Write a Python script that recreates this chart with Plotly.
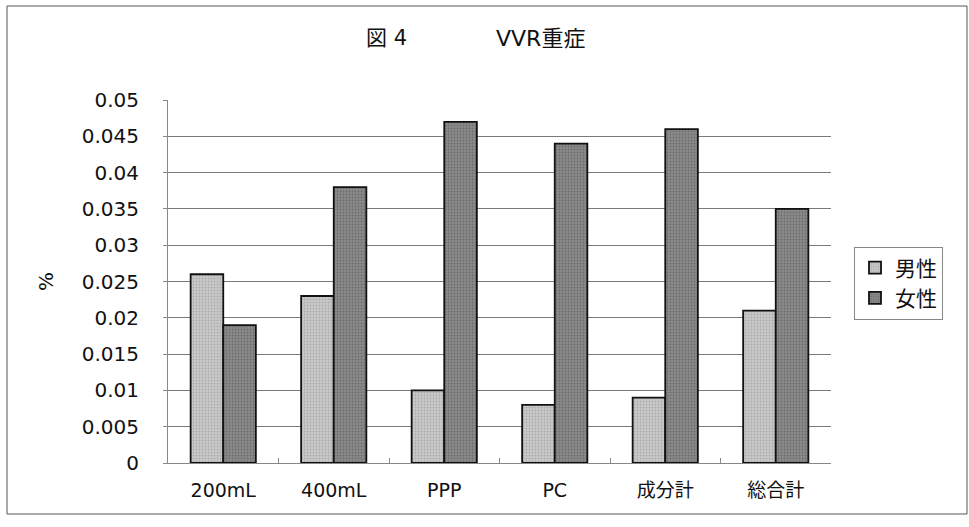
import plotly.graph_objects as go

categories = ["200mL", "400mL", "PPP", "PC", "成分計", "総合計"]
male = [0.026, 0.023, 0.010, 0.008, 0.009, 0.021]
female = [0.019, 0.038, 0.047, 0.044, 0.046, 0.035]
y_ticks = [0, 0.005, 0.01, 0.015, 0.02, 0.025, 0.03, 0.035, 0.04, 0.045, 0.05]
y_tick_text = ["0", "0.005", "0.01", "0.015", "0.02", "0.025", "0.03", "0.035", "0.04", "0.045", "0.05"]

FONT = "DejaVu Sans, Noto Sans CJK JP, sans-serif"

fig = go.Figure()
fig.add_trace(go.Bar(
    name="男性", x=categories, y=male,
    marker=dict(color="#c9c9c9", line=dict(color="#111111", width=1.8),
                pattern=dict(shape=".", fgcolor="#8f8f8f", size=3, solidity=0.3)),
))
fig.add_trace(go.Bar(
    name="女性", x=categories, y=female,
    marker=dict(color="#8a8a8a", line=dict(color="#111111", width=1.8),
                pattern=dict(shape=".", fgcolor="#4f4f4f", size=3, solidity=0.3)),
))

L, R, T, B = 168, 831, 100, 463
W, H = R - L, B - T

def px_x(x):
    return (x - L) / W

def px_y(y):
    return (B - y) / H

fig.update_layout(
    width=969, height=527,
    margin=dict(l=L, r=969 - R, t=T, b=527 - B),
    paper_bgcolor="white", plot_bgcolor="white",
    barmode="group", bargap=0.41, bargroupgap=0,
    font=dict(family=FONT, size=19, color="#111111"),
    showlegend=True,
    legend=dict(x=px_x(854), y=px_y(283), xanchor="left", yanchor="middle",
                bordercolor="#888888", borderwidth=1, bgcolor="white",
                font=dict(size=21), itemwidth=30, tracegroupgap=4),
    xaxis=dict(showgrid=False, showline=True, linecolor="#888888", linewidth=1,
               ticks="inside", ticklen=5, tickcolor="#888888", tickson="boundaries",
               ticklabelstandoff=10, tickfont=dict(size=19), fixedrange=True),
    yaxis=dict(range=[0, 0.05], tickvals=y_ticks, ticktext=y_tick_text,
               showgrid=True, gridcolor="#7a7a7a", gridwidth=1,
               showline=True, linecolor="#888888", linewidth=1,
               ticks="outside", ticklen=4, tickcolor="#888888",
               ticklabelstandoff=20, tickfont=dict(size=20),
               title=dict(text="%", font=dict(size=20), standoff=22),
               zeroline=False, fixedrange=True),
    shapes=[dict(type="rect", xref="paper", yref="paper",
                 x0=px_x(7), x1=px_x(967), y0=px_y(6), y1=px_y(514),
                 line=dict(color="#555555", width=1), layer="below")],
    annotations=[
        dict(text="図 4", xref="paper", yref="paper", x=px_x(386), y=px_y(38),
             showarrow=False, font=dict(size=21), xanchor="center", yanchor="middle"),
        dict(text="VVR重症", xref="paper", yref="paper", x=px_x(540), y=px_y(38),
             showarrow=False, font=dict(size=22), xanchor="center", yanchor="middle"),
    ],
)

fig.write_html("out.html")
